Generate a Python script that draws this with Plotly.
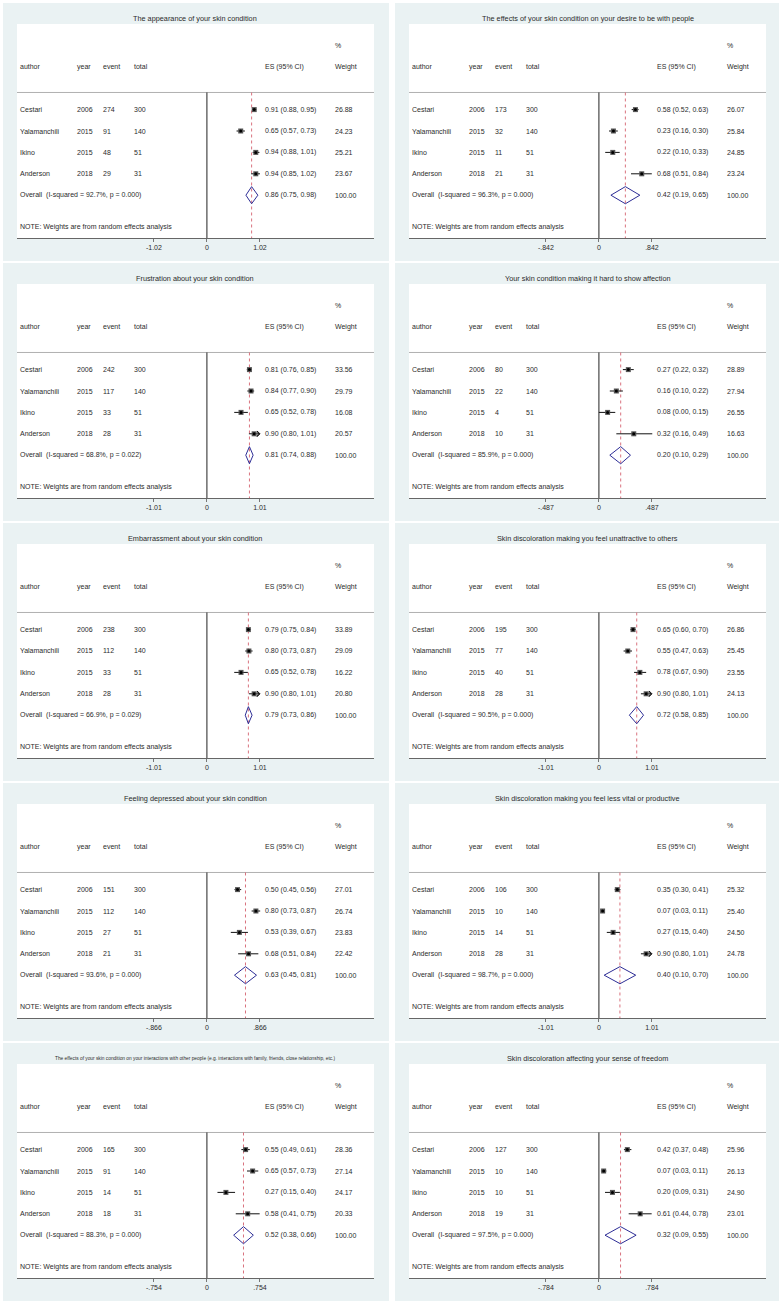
import plotly.graph_objects as go

# ---- data -------------------------------------------------------------
titles = [
    "The appearance of your skin condition",
    "The effects of your skin condition on your desire to be with people",
    "Frustration about your skin condition",
    "Your skin condition making it hard to show affection",
    "Embarrassment about your skin condition",
    "Skin discoloration making you feel unattractive to others",
    "Feeling depressed about your skin condition",
    "Skin discoloration making you feel less vital or productive",
    "The effects of your skin condition on your interactions with other people "
    "(e.g. interactions with family, friends, close relationship, etc.)",
    "Skin discoloration affecting your sense of freedom",
]
title_sizes = [7.3, 7.3, 7.3, 7.3, 7.3, 7.3, 7.3, 7.3, 4.8, 7.3]

tick_vals = [1.02, 0.842, 1.01, 0.487, 1.01, 1.01, 0.866, 1.01, 0.754, 0.784]
tick_text = [("-1.02", "1.02"), ("-.842", ".842"), ("-1.01", "1.01"), ("-.487", ".487"),
             ("-1.01", "1.01"), ("-1.01", "1.01"), ("-.866", ".866"), ("-1.01", "1.01"),
             ("-.754", ".754"), ("-.784", ".784")]

authors = ["Cestari", "Yalamanchili", "Ikino", "Anderson"]
years = [2006, 2015, 2015, 2018]
totals = [300, 140, 51, 31]

events = [
    [274, 91, 48, 29],
    [173, 32, 11, 21],
    [242, 117, 33, 28],
    [80, 22, 4, 10],
    [238, 112, 33, 28],
    [195, 77, 40, 28],
    [151, 112, 27, 21],
    [106, 10, 14, 28],
    [165, 91, 14, 18],
    [127, 10, 10, 19],
]
es = [
    [0.91, 0.65, 0.94, 0.94],
    [0.58, 0.23, 0.22, 0.68],
    [0.81, 0.84, 0.65, 0.90],
    [0.27, 0.16, 0.08, 0.32],
    [0.79, 0.80, 0.65, 0.90],
    [0.65, 0.55, 0.78, 0.90],
    [0.50, 0.80, 0.53, 0.68],
    [0.35, 0.07, 0.27, 0.90],
    [0.55, 0.65, 0.27, 0.58],
    [0.42, 0.07, 0.20, 0.61],
]
ci_lo = [
    [0.88, 0.57, 0.88, 0.85],
    [0.52, 0.16, 0.10, 0.51],
    [0.76, 0.77, 0.52, 0.80],
    [0.22, 0.10, 0.00, 0.16],
    [0.75, 0.73, 0.52, 0.80],
    [0.60, 0.47, 0.67, 0.80],
    [0.45, 0.73, 0.39, 0.51],
    [0.30, 0.03, 0.15, 0.80],
    [0.49, 0.57, 0.15, 0.41],
    [0.37, 0.03, 0.09, 0.44],
]
ci_hi = [
    [0.95, 0.73, 1.01, 1.02],
    [0.63, 0.30, 0.33, 0.84],
    [0.85, 0.90, 0.78, 1.01],
    [0.32, 0.22, 0.15, 0.49],
    [0.84, 0.87, 0.78, 1.01],
    [0.70, 0.63, 0.90, 1.01],
    [0.56, 0.87, 0.67, 0.84],
    [0.41, 0.11, 0.40, 1.01],
    [0.61, 0.73, 0.40, 0.75],
    [0.48, 0.11, 0.31, 0.78],
]
weights = [
    [26.88, 24.23, 25.21, 23.67],
    [26.07, 25.84, 24.85, 23.24],
    [33.56, 29.79, 16.08, 20.57],
    [28.89, 27.94, 26.55, 16.63],
    [33.89, 29.09, 16.22, 20.80],
    [26.86, 25.45, 23.55, 24.13],
    [27.01, 26.74, 23.83, 22.42],
    [25.32, 25.40, 24.50, 24.78],
    [28.36, 27.14, 24.17, 20.33],
    [25.96, 26.13, 24.90, 23.01],
]
# CI truncated at the axis limit (drawn with an arrow)
clipped = [
    [False, False, False, False],
    [False, False, False, False],
    [False, False, False, True],
    [False, False, False, False],
    [False, False, False, True],
    [False, False, False, True],
    [False, False, False, False],
    [False, False, False, True],
    [False, False, False, False],
    [False, False, False, False],
]
overall_es = [0.86, 0.42, 0.81, 0.20, 0.79, 0.72, 0.63, 0.40, 0.52, 0.32]
overall_lo = [0.75, 0.19, 0.74, 0.10, 0.73, 0.58, 0.45, 0.10, 0.38, 0.09]
overall_hi = [0.98, 0.65, 0.88, 0.29, 0.86, 0.85, 0.81, 0.70, 0.66, 0.55]
i_squared = ["92.7", "96.3", "68.8", "85.9", "66.9", "90.5", "93.6", "98.7", "88.3", "97.5"]
p_values = ["0.000", "0.000", "0.022", "0.000", "0.029", "0.000", "0.000", "0.000", "0.000", "0.000"]

# ---- layout constants (pixels) -----------------------------------------
W, H = 779, 1305
COL_DX, ROW_DY = 392, 260
OUTER = (3, 3, 389, 261)
INNER = (17, 24, 374, 238)
ZERO_FRAC, TICK_FRAC = 0.532, 0.1485
TEXT_COLS = {"author": 0.003, "year": 0.1625, "event": 0.236, "total": 0.321,
             "es": 0.689, "weight": 0.885}
STUDY_ROWS = [4, 5, 6, 7]
OVERALL_ROW = 8
SEP_ROW = 3.2
FONT = "Arial, Liberation Sans, sans-serif"
TXT = "#2b2b2b"
BG = "#EAF2F3"
NAVY = "#2d2d96"
RED = "#d9727e"


def px_x(v):
    return v / W


def px_y(v):
    return 1 - v / H


fig = go.Figure()
shapes = []
annotations = []
layout = dict(
    width=W, height=H,
    margin=dict(l=0, r=0, t=0, b=0),
    paper_bgcolor="white",
    plot_bgcolor="rgba(0,0,0,0)",
    showlegend=False,
    font=dict(family=FONT, color=TXT, size=7),
)

for k in range(len(titles)):
    r, c = divmod(k, 2)
    sfx = "" if k == 0 else str(k + 1)
    xa, ya = f"x{sfx}", f"y{sfx}"
    ox, oy = COL_DX * c, ROW_DY * r
    T = tick_vals[k]

    # panel backgrounds
    shapes.append(dict(type="rect", xref="paper", yref="paper", layer="below",
                       x0=px_x(OUTER[0] + ox), x1=px_x(OUTER[2] + ox),
                       y0=px_y(OUTER[3] + oy), y1=px_y(OUTER[1] + oy),
                       fillcolor=BG, line=dict(width=0)))
    shapes.append(dict(type="rect", xref="paper", yref="paper", layer="below",
                       x0=px_x(INNER[0] + ox), x1=px_x(INNER[2] + ox),
                       y0=px_y(INNER[3] + oy), y1=px_y(INNER[1] + oy),
                       fillcolor="white", line=dict(width=0)))

    layout[f"xaxis{sfx}"] = dict(
        domain=[px_x(INNER[0] + ox), px_x(INNER[2] + ox)],
        anchor=ya,
        range=[-ZERO_FRAC / TICK_FRAC * T, (1 - ZERO_FRAC) / TICK_FRAC * T],
        tickvals=[-T, 0, T],
        ticktext=[tick_text[k][0], "0", tick_text[k][1]],
        ticks="outside", ticklen=3, tickcolor="#777", tickwidth=1,
        tickfont=dict(size=7, color=TXT),
        showline=True, linecolor="#666", linewidth=1,
        showgrid=False, zeroline=False, fixedrange=True,
    )
    layout[f"yaxis{sfx}"] = dict(
        domain=[px_y(INNER[3] + oy), px_y(INNER[1] + oy)],
        anchor=xa, range=[10, 0], visible=False, fixedrange=True,
    )

    # separator, null line, overall line
    shapes.append(dict(type="line", xref=f"{xa} domain", yref=ya, layer="below",
                       x0=0, x1=1, y0=SEP_ROW, y1=SEP_ROW,
                       line=dict(color="#b0b0b0", width=1)))
    shapes.append(dict(type="line", xref=xa, yref=ya, layer="below",
                       x0=0, x1=0, y0=SEP_ROW, y1=10,
                       line=dict(color="#222", width=1)))
    shapes.append(dict(type="line", xref=xa, yref=ya, layer="below",
                       x0=overall_es[k], x1=overall_es[k], y0=SEP_ROW, y1=10,
                       line=dict(color=RED, width=1, dash="dot")))

    # study CIs
    lx, ly = [], []
    for i, y in enumerate(STUDY_ROWS):
        lx += [ci_lo[k][i], ci_hi[k][i], None]
        ly += [y, y, None]
    fig.add_trace(go.Scatter(x=lx, y=ly, xaxis=xa, yaxis=ya, mode="lines",
                             line=dict(color="#111", width=1), hoverinfo="skip"))
    fig.add_trace(go.Scatter(x=es[k], y=STUDY_ROWS, xaxis=xa, yaxis=ya, mode="markers",
                             marker=dict(symbol="square", size=5, color="#555"),
                             hoverinfo="skip"))
    fig.add_trace(go.Scatter(x=es[k], y=STUDY_ROWS, xaxis=xa, yaxis=ya, mode="markers",
                             marker=dict(symbol="circle", size=3, color="#000"),
                             hovertemplate="%{x:.2f}<extra></extra>"))
    ax_ = [ci_hi[k][i] for i in range(4) if clipped[k][i]]
    ay_ = [STUDY_ROWS[i] for i in range(4) if clipped[k][i]]
    if ax_:
        fig.add_trace(go.Scatter(x=ax_, y=ay_, xaxis=xa, yaxis=ya, mode="markers",
                                 marker=dict(symbol="arrow-wide-open", angle=90, size=4,
                                             color="#111", line=dict(width=1, color="#111")),
                                 hoverinfo="skip"))

    # overall diamond
    fig.add_trace(go.Scatter(
        x=[overall_lo[k], overall_es[k], overall_hi[k], overall_es[k], overall_lo[k]],
        y=[OVERALL_ROW, OVERALL_ROW - 0.4, OVERALL_ROW, OVERALL_ROW + 0.4, OVERALL_ROW],
        xaxis=xa, yaxis=ya, mode="lines", line=dict(color=NAVY, width=1),
        hoverinfo="skip"))

    def txt(col, y, s):
        annotations.append(dict(xref=f"{xa} domain", yref=ya, x=TEXT_COLS[col], y=y,
                                text=s, showarrow=False, xanchor="left",
                                yanchor="middle", font=dict(size=7, color=TXT)))

    # header
    txt("weight", 1, "%")
    for col, s in [("author", "author"), ("year", "year"), ("event", "event"),
                   ("total", "total"), ("es", "ES (95% CI)"), ("weight", "Weight")]:
        txt(col, 2, s)
    # studies
    for i, y in enumerate(STUDY_ROWS):
        txt("author", y, authors[i])
        txt("year", y, str(years[i]))
        txt("event", y, str(events[k][i]))
        txt("total", y, str(totals[i]))
        txt("es", y, f"{es[k][i]:.2f} ({ci_lo[k][i]:.2f}, {ci_hi[k][i]:.2f})")
        txt("weight", y, f"{weights[k][i]:.2f}")
    txt("author", OVERALL_ROW,
        f"Overall  (I-squared = {i_squared[k]}%, p = {p_values[k]})")
    txt("es", OVERALL_ROW,
        f"{overall_es[k]:.2f} ({overall_lo[k]:.2f}, {overall_hi[k]:.2f})")
    txt("weight", OVERALL_ROW, "100.00")
    txt("author", 9.5, "NOTE: Weights are from random effects analysis")

    # panel title
    annotations.append(dict(xref="paper", yref="paper",
                            x=px_x((INNER[0] + INNER[2]) / 2 + ox), y=px_y(18.7 + oy),
                            text=titles[k], showarrow=False, xanchor="center",
                            yanchor="middle", font=dict(size=title_sizes[k], color=TXT)))

layout["shapes"] = shapes
layout["annotations"] = annotations
fig.update_layout(**layout)

# drop the browser's default 8px body margin so the figure fills the window
fig.write_html("out.html", config={"displayModeBar": False},
               post_script="document.body.style.margin='0';")
